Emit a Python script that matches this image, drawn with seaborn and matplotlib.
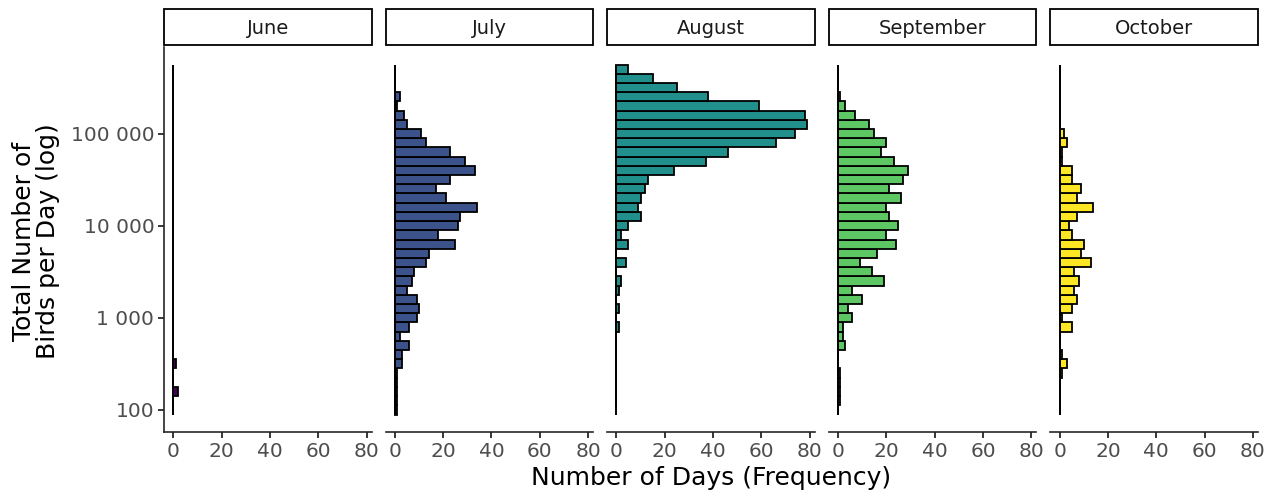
import numpy as np
import pandas as pd
import seaborn as sns
import matplotlib.pyplot as plt
from matplotlib.patches import Rectangle
from matplotlib.ticker import FixedLocator, NullLocator, FuncFormatter

# bin centres (log10 of birds per day) and days per bin, low -> high
log_bins = [2.0, 2.1, 2.2, 2.3, 2.4, 2.5, 2.6, 2.7, 2.8, 2.9,
            3.0, 3.1, 3.2, 3.3, 3.4, 3.5, 3.6, 3.7, 3.8, 3.9,
            4.0, 4.1, 4.2, 4.3, 4.4, 4.5, 4.6, 4.7, 4.8, 4.9,
            5.0, 5.1, 5.2, 5.3, 5.4, 5.5, 5.6, 5.7]

months = ["June", "July", "August", "September", "October"]

june = [0, 0, 2, 0, 0, 1, 0, 0, 0, 0,
        0, 0, 0, 0, 0, 0, 0, 0, 0, 0,
        0, 0, 0, 0, 0, 0, 0, 0, 0, 0,
        0, 0, 0, 0, 0, 0, 0, 0]
july = [1, 1, 1, 1, 1, 3, 3, 6, 2, 6,
        9, 10, 9, 5, 7, 8, 13, 14, 25, 18,
        26, 27, 34, 21, 17, 23, 33, 29, 23, 13,
        11, 5, 4, 1, 2, 0, 0, 0]
august = [0, 0, 0, 0, 0, 0, 0, 0, 0, 1,
          0, 1, 0, 1, 2, 0, 4, 0, 5, 2,
          5, 10, 9, 10, 12, 13, 24, 37, 46, 66,
          74, 79, 78, 59, 38, 25, 15, 5]
september = [0, 1, 1, 1, 1, 0, 0, 3, 2, 2,
             6, 4, 10, 6, 19, 14, 9, 16, 24, 20,
             25, 21, 20, 26, 21, 27, 29, 23, 18, 20,
             15, 13, 7, 3, 1, 0, 0, 0]
october = [0, 0, 0, 0, 1, 3, 1, 0, 0, 5,
           1, 5, 7, 6, 8, 6, 13, 9, 10, 5,
           4, 7, 14, 7, 9, 5, 5, 1, 1, 3,
           2, 0, 0, 0, 0, 0, 0, 0]

counts = [june, july, august, september, october]

rows = []
for m, c in zip(months, counts):
    for lb, n in zip(log_bins, c):
        rows.append({"month": m, "birds": 10 ** lb, "days": n})
df = pd.DataFrame(rows)

# bin edges in log units, half a bin either side of the centres
half = 0.05
edges = [b - half for b in log_bins] + [log_bins[-1] + half]

sns.set_style("ticks")
plt.rcParams["font.family"] = ["DejaVu Sans"]
# ggplot's discrete viridis (end points included)
palette = ["#440154", "#3B528B", "#21908C", "#5DC863", "#FDE725"]

g = sns.FacetGrid(df, col="month", col_order=months, hue="month",
                  hue_order=months, palette=palette, sharex=True, sharey=True)
g.map_dataframe(sns.histplot, y="birds", weights="days", bins=edges,
                log_scale=True, alpha=1, edgecolor="black", linewidth=1.3)

fig = g.figure
fig.set_size_inches(12.74, 4.92)
fig.subplots_adjust(left=164 / 1274, right=1258 / 1274,
                    bottom=60 / 492, top=445 / 492, wspace=0.0675)

ax_h = 385.0
for i, (ax, m) in enumerate(zip(g.axes.flat, months)):
    ax.set_title("")
    ax.set_xlabel("")
    ax.set_ylabel("")
    # baseline of the empty bins, as ggplot draws it
    ax.vlines(0, 10 ** edges[0], 10 ** edges[-1], color="black", linewidth=1.3, zorder=3)
    ax.set_xlim(-3.8, 82.1)
    ax.set_ylim(10 ** 1.76, 10 ** 5.94)
    ax.xaxis.set_major_locator(FixedLocator([0, 20, 40, 60, 80]))
    ax.yaxis.set_major_locator(FixedLocator([100, 1000, 10000, 100000]))
    ax.yaxis.set_minor_locator(NullLocator())
    ax.yaxis.set_major_formatter(
        FuncFormatter(lambda v, p: f"{int(round(v)):,}".replace(",", " ")))
    ax.tick_params(axis="both", length=4, width=1.1, color="black",
                   labelcolor="#4D4D4D", labelsize=14.5, pad=3)
    for s in ["top", "right"]:
        ax.spines[s].set_visible(False)
    ax.spines["bottom"].set_linewidth(1.2)
    ax.spines["left"].set_linewidth(1.2)
    if i > 0:
        ax.spines["left"].set_visible(False)
        ax.tick_params(axis="y", left=False, labelleft=False)
    else:
        ax.tick_params(axis="y", labelleft=True)
    ax.tick_params(axis="x", labelbottom=True)
    # facet strip
    ax.add_patch(Rectangle((0, 1 + 2 / ax_h), 1, 36 / ax_h, transform=ax.transAxes,
                           fill=False, edgecolor="black", linewidth=1.3, clip_on=False))
    ax.text(0.5, 1 + 18 / ax_h, m, transform=ax.transAxes, ha="center", va="center",
            fontsize=14, color="#1A1A1A")

fig.text(711 / 1274, 14 / 492, "Number of Days (Frequency)", ha="center", va="center",
         fontsize=18, color="black")
fig.text(36 / 1274, 0.51, "Total Number of\nBirds per Day (log)", ha="center",
         va="center", rotation=90, fontsize=18, color="black", multialignment="center",
         linespacing=1.0)

fig.savefig("out.png", dpi=100)
